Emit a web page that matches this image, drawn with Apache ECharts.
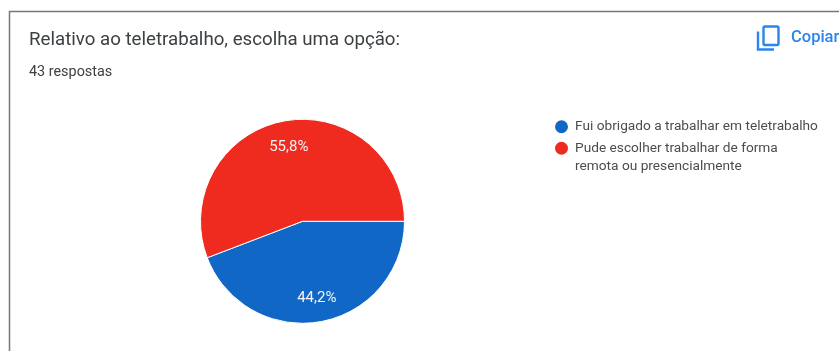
<!DOCTYPE html>
<html>
<head>
<meta charset="utf-8">
<title>Relativo ao teletrabalho</title>
<style>
  html, body { margin: 0; padding: 0; background: #ffffff; }
  #chart { width: 839px; height: 351px; }
</style>
<script src="https://cdn.jsdelivr.net/npm/echarts@6/dist/echarts.min.js"></script>
</head>
<body>
<div id="chart"></div>
<script>
// Survey answers
const categories = [
  'Fui obrigado a trabalhar em teletrabalho',
  'Pude escolher trabalhar de forma\nremota ou presencialmente'
];
const responses = [19, 24];
const sliceColors = ['#1167c6', '#ef2a1f'];
const questionTitle = 'Relativo ao teletrabalho, escolha uma opção:';
const responseCount = '43 respostas';
const copyLabel = 'Copiar';

const FONT = 'Roboto, sans-serif';
const LINK_BLUE = '#2a85ee';

const total = responses.reduce((a, b) => a + b, 0);
const pieRadius = 102;
const labelPush = [24.5, 21.5];

// Pushes each percentage outward from the default half radius, along its slice's middle.
function labelOffset(index) {
  const before = responses.slice(0, index).reduce((a, b) => a + b, 0);
  const mid = ((before + responses[index] / 2) / total) * 2 * Math.PI;
  return [Math.cos(mid) * labelPush[index], Math.sin(mid) * labelPush[index]];
}

const chart = echarts.init(document.getElementById('chart'), null, { renderer: 'canvas' });
chart.setOption({
  animation: false,
  backgroundColor: '#ffffff',
  title: [
    {
      text: questionTitle,
      left: 24, top: 26,
      textStyle: { fontFamily: FONT, fontSize: 18.7, fontWeight: 'normal', color: '#3c4043' }
    },
    {
      text: responseCount,
      left: 24, top: 60,
      textStyle: { fontFamily: FONT, fontSize: 14.4, fontWeight: 'normal', color: '#3c4043' }
    }
  ],
  legend: {
    orient: 'vertical',
    left: 553, top: 117.5,
    padding: 0,
    icon: 'circle',
    itemWidth: 15, itemHeight: 15,
    // The blank first line keeps the marker level with the first line of a wrapped entry.
    itemGap: -15.5,
    formatter: name => (name.includes('\n') ? '\n' + name : name),
    selectedMode: false,
    data: categories,
    textStyle: {
      fontFamily: FONT, fontSize: 13.7, color: '#4a4d50',
      lineHeight: 18.5, padding: [0, 0, 0, 1]
    }
  },
  series: [{
    type: 'pie',
    center: [302.5, 221.3],
    radius: pieRadius,
    startAngle: 0,
    clockwise: true,
    silent: true,
    itemStyle: { borderColor: '#ffffff', borderWidth: 1 },
    label: {
      position: 'inside',
      fontFamily: FONT, fontSize: 15, color: '#f4f4f4',
      formatter: p => p.percent.toFixed(1).replace('.', ',') + '%'
    },
    labelLine: { show: false },
    data: categories.map((name, i) => ({
      name,
      value: responses[i],
      itemStyle: { color: sliceColors[i] },
      label: { offset: labelOffset(i) }
    }))
  }],
  graphic: [
    // Card outline, running off the right and bottom edges
    {
      type: 'polyline',
      shape: { points: [[9.5, 351], [9.5, 11.5], [839, 11.5]] },
      style: { fill: null, stroke: '#777777', lineWidth: 1.5 }
    },
    // Copy icon: front sheet and the corner of the sheet behind it
    {
      type: 'rect',
      shape: { x: 763.5, y: 26.5, width: 15, height: 18.5, r: 1.5 },
      style: { fill: null, stroke: LINK_BLUE, lineWidth: 2.4 }
    },
    {
      type: 'polyline',
      shape: { points: [[758, 31.5], [758, 49.5], [774, 49.5]] },
      style: { fill: null, stroke: LINK_BLUE, lineWidth: 2.4 }
    },
    {
      type: 'text',
      x: 791, y: 29,
      style: { text: copyLabel, font: '500 16.5px Roboto, sans-serif', fill: LINK_BLUE }
    }
  ]
});
</script>
</body>
</html>
